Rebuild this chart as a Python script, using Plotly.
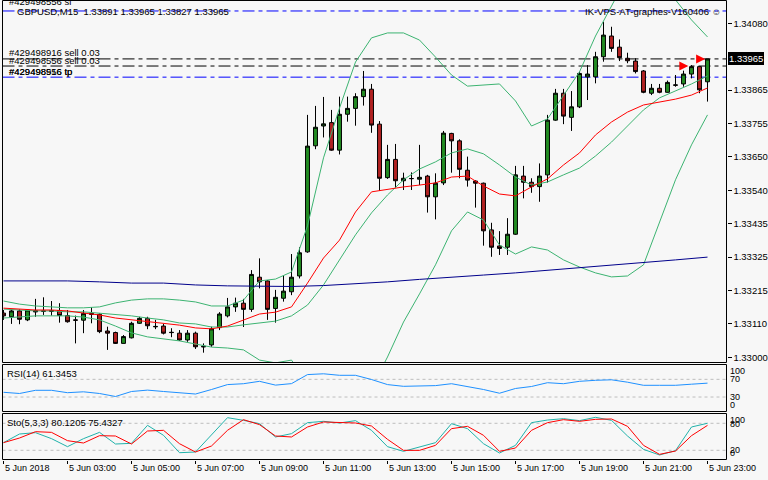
import plotly.graph_objects as go

# ---------------- data (GBPUSD M15, 5 Jun 2018 01:00 .. 23:00) ----------------
bars = list(range(89))
opens = [1.33143, 1.33131, 1.33150, 1.33121, 1.33151, 1.33150, 1.33151, 1.33151, 1.33135, 1.33121,
         1.33120, 1.33142, 1.33139, 1.33085, 1.33080, 1.33045, 1.33063, 1.33110, 1.33126, 1.33100,
         1.33101, 1.33081, 1.33078, 1.33056, 1.33078, 1.33036, 1.33040, 1.33096, 1.33134, 1.33163,
         1.33175, 1.33155, 1.33259, 1.33247, 1.33158, 1.33191, 1.33212, 1.33263, 1.33341, 1.33684,
         1.33748, 1.33759, 1.33670, 1.33786, 1.33805, 1.33843, 1.33867, 1.33754, 1.33581, 1.33640,
         1.33571, 1.33578, 1.33576, 1.33586, 1.33519, 1.33564, 1.33724, 1.33700, 1.33605, 1.33570,
         1.33563, 1.33412, 1.33360, 1.33356, 1.33398, 1.33586, 1.33566, 1.33552, 1.33590, 1.33767,
         1.33854, 1.33776, 1.33810, 1.33907, 1.33907, 1.33972, 1.34039, 1.34003, 1.33967, 1.33958,
         1.33926, 1.33854, 1.33870, 1.33857, 1.33881, 1.33884, 1.33916, 1.33940, 1.33891]
highs = [1.33153, 1.33153, 1.33155, 1.33156, 1.33189, 1.33194, 1.33182, 1.33175, 1.33153, 1.33135,
         1.33153, 1.33162, 1.33142, 1.33099, 1.33083, 1.33072, 1.33115, 1.33131, 1.33131, 1.33121,
         1.33108, 1.33094, 1.33088, 1.33088, 1.33083, 1.33045, 1.33099, 1.33146, 1.33192, 1.33193,
         1.33189, 1.33282, 1.33320, 1.33250, 1.33218, 1.33266, 1.33334, 1.33356, 1.33784, 1.33813,
         1.33842, 1.33800, 1.33843, 1.33843, 1.33854, 1.33926, 1.33884, 1.33764, 1.33687, 1.33690,
         1.33597, 1.33598, 1.33687, 1.33590, 1.33595, 1.33732, 1.33726, 1.33705, 1.33649, 1.33573,
         1.33565, 1.33435, 1.33408, 1.33450, 1.33619, 1.33619, 1.33579, 1.33627, 1.33784, 1.33868,
         1.33868, 1.33861, 1.33924, 1.33945, 1.33988, 1.34085, 1.34069, 1.34028, 1.33985, 1.33967,
         1.33929, 1.33884, 1.33884, 1.33895, 1.33913, 1.33927, 1.33945, 1.33941, 1.33965]
lows = [1.33121, 1.33108, 1.33107, 1.33117, 1.33131, 1.33137, 1.33135, 1.33112, 1.33112, 1.33045,
        1.33078, 1.33110, 1.33078, 1.33024, 1.33043, 1.33045, 1.33061, 1.33108, 1.33091, 1.33091,
        1.33074, 1.33065, 1.33053, 1.33050, 1.33027, 1.33015, 1.33034, 1.33088, 1.33129, 1.33147,
        1.33098, 1.33147, 1.33223, 1.33121, 1.33112, 1.33180, 1.33201, 1.33255, 1.33338, 1.33673,
        1.33711, 1.33668, 1.33656, 1.33762, 1.33749, 1.33814, 1.33726, 1.33538, 1.33577, 1.33547,
        1.33541, 1.33541, 1.33557, 1.33468, 1.33446, 1.33557, 1.33597, 1.33579, 1.33552, 1.33484,
        1.33361, 1.33325, 1.33331, 1.33331, 1.33396, 1.33514, 1.33532, 1.33503, 1.33565, 1.33765,
        1.33754, 1.33732, 1.33806, 1.33832, 1.33886, 1.33956, 1.33988, 1.33958, 1.33951, 1.33918,
        1.33854, 1.33848, 1.33854, 1.33856, 1.33875, 1.33875, 1.33902, 1.33854, 1.33827]
closes = [1.33134, 1.33150, 1.33123, 1.33153, 1.33147, 1.33149, 1.33149, 1.33135, 1.33115, 1.33120,
          1.33142, 1.33139, 1.33083, 1.33078, 1.33045, 1.33067, 1.33110, 1.33126, 1.33102, 1.33099,
          1.33078, 1.33080, 1.33056, 1.33078, 1.33034, 1.33034, 1.33092, 1.33140, 1.33163, 1.33175,
          1.33155, 1.33268, 1.33244, 1.33155, 1.33194, 1.33214, 1.33259, 1.33338, 1.33683, 1.33744,
          1.33755, 1.33670, 1.33786, 1.33805, 1.33843, 1.33867, 1.33751, 1.33579, 1.33640, 1.33571,
          1.33579, 1.33578, 1.33582, 1.33519, 1.33563, 1.33725, 1.33700, 1.33608, 1.33573, 1.33563,
          1.33409, 1.33356, 1.33352, 1.33398, 1.33590, 1.33566, 1.33552, 1.33586, 1.33767, 1.33854,
          1.33780, 1.33810, 1.33918, 1.33916, 1.33972, 1.34042, 1.33999, 1.33969, 1.33959, 1.33924,
          1.33857, 1.33870, 1.33857, 1.33889, 1.33880, 1.33916, 1.33940, 1.33865, 1.33965]

# indicator lines, read every second bar
line_bars = list(range(0, 89, 2))
ma_red = [1.33159, 1.33156, 1.33153, 1.33153, 1.33150, 1.33143, 1.33137, 1.33127, 1.33121, 1.33117,
          1.33111, 1.33104, 1.33095, 1.33092, 1.33101, 1.33121, 1.33140, 1.33146, 1.33163, 1.33240,
          1.33321, 1.33379, 1.33470, 1.33535, 1.33544, 1.33551, 1.33557, 1.33564, 1.33583, 1.33586,
          1.33554, 1.33528, 1.33522, 1.33551, 1.33577, 1.33622, 1.33661, 1.33719, 1.33761, 1.33793,
          1.33816, 1.33826, 1.33835, 1.33848, 1.33871]
bb_upper = [1.33182, 1.33172, 1.33166, 1.33163, 1.33160, 1.33160, 1.33163, 1.33176, 1.33185, 1.33189,
            1.33189, 1.33185, 1.33179, 1.33166, 1.33166, 1.33185, 1.33247, 1.33253, 1.33276, 1.33425,
            1.33645, 1.33806, 1.33955, 1.34033, 1.34049, 1.34049, 1.34026, 1.33971, 1.33913, 1.33877,
            1.33881, 1.33884, 1.33829, 1.33748, 1.33771, 1.33848, 1.33923, 1.34039, 1.34139, 1.34233,
            1.34301, 1.34246, 1.34156, 1.34091, 1.34036]
bb_middle = [1.33156, 1.33153, 1.33150, 1.33150, 1.33147, 1.33147, 1.33143, 1.33140, 1.33134, 1.33127,
             1.33121, 1.33111, 1.33108, 1.33098, 1.33098, 1.33105, 1.33111, 1.33117, 1.33134, 1.33169,
             1.33234, 1.33315, 1.33396, 1.33467, 1.33525, 1.33574, 1.33609, 1.33632, 1.33661, 1.33674,
             1.33658, 1.33622, 1.33583, 1.33557, 1.33567, 1.33590, 1.33612, 1.33651, 1.33696, 1.33748,
             1.33800, 1.33839, 1.33861, 1.33884, 1.33910]
bb_lower = [1.33127, 1.33130, 1.33134, 1.33134, 1.33134, 1.33130, 1.33121, 1.33101, 1.33079, 1.33066,
            1.33059, 1.33053, 1.33043, 1.33033, 1.33030, 1.33024, 1.32991, 1.32982, 1.32991, 1.32914,
            1.32823, 1.32823, 1.32836, 1.32901, 1.33001, 1.33114, 1.33205, 1.33299, 1.33409, 1.33470,
            1.33444, 1.33363, 1.33334, 1.33357, 1.33347, 1.33315, 1.33292, 1.33273, 1.33260, 1.33263,
            1.33299, 1.33438, 1.33574, 1.33687, 1.33784]
blue_bars = list(range(0, 89, 4))
ma_blue = [1.33247, 1.33247, 1.33247, 1.33244, 1.33240, 1.33240, 1.33234, 1.33231, 1.33229, 1.33229,
           1.33232, 1.33237, 1.33244, 1.33252, 1.33260, 1.33266, 1.33273, 1.33281, 1.33289, 1.33297,
           1.33305, 1.33315, 1.33324]
rsi = [40.7, 38.0, 45.2, 45.2, 39.8, 41.8, 38.0, 31.2, 42.5, 45.6,
       42.5, 39.1, 36.8, 47.0, 58.1, 60.1, 65.5, 56.9, 60.3, 80.7,
       82.5, 79.1, 79.1, 69.6, 58.1, 54.2, 54.2, 55.8, 60.1, 53.8,
       47.0, 38.6, 49.3, 53.8, 62.4, 60.1, 65.5, 67.8, 68.9, 63.5,
       56.5, 56.5, 56.5, 59.0, 61.35]
sto_main = [37.0, 56.2, 59.2, 45.9, 28.1, 45.9, 59.9, 34.0, 35.5, 75.5,
            53.3, 14.7, 16.2, 53.3, 92.5, 86.6, 79.2, 49.6, 57.0, 81.4,
            84.4, 80.7, 85.9, 64.4, 28.1, 17.7, 26.6, 37.0, 79.2, 68.1,
            34.7, 14.0, 31.0, 81.4, 87.3, 90.3, 85.9, 93.3, 86.6, 51.8,
            22.1, 9.6, 19.2, 71.8, 80.12]
sto_signal = [37.0, 47.3, 61.4, 59.9, 41.4, 36.2, 52.5, 51.8, 34.0, 62.9,
              64.4, 34.7, 16.2, 29.6, 64.4, 88.1, 77.0, 51.8, 49.6, 71.8,
              82.9, 82.1, 80.7, 74.0, 44.4, 19.9, 19.9, 31.0, 68.1, 73.3,
              53.3, 17.7, 25.1, 64.4, 81.4, 88.1, 84.4, 88.8, 89.6, 73.3,
              31.0, 11.0, 18.4, 52.5, 75.43]

# orders
order_sl = 1.34120
order_sell_1 = 1.33965
order_sell_2 = 1.33942
order_tp = 1.33906
arrow_bars = [85.6, 87.7]
arrow_prices = [1.33942, 1.33965]

price_tick_vals = [1.33000, 1.33108, 1.33216, 1.33324, 1.33432, 1.33540, 1.33648, 1.33756, 1.33864, 1.34080]
price_tick_text = ['1.33000', '1.33110', '1.33215', '1.33325', '1.33435', '1.33540', '1.33650',
                   '1.33755', '1.33865', '1.34080']
time_tick_bars = [0, 8, 16, 24, 32, 40, 48, 56, 64, 72, 80, 88]
time_tick_text = ['5 Jun 2018', '5 Jun 03:00', '5 Jun 05:00', '5 Jun 07:00', '5 Jun 09:00', '5 Jun 11:00',
                  '5 Jun 13:00', '5 Jun 15:00', '5 Jun 17:00', '5 Jun 19:00', '5 Jun 21:00', '5 Jun 23:00']

# ---------------- layout helpers ----------------
W, H = 768, 480
FONT = 'Liberation Sans, Arial, sans-serif'
BG = '#f7f7f7'
XL, XR = 2.5, 726.5
MAIN_T, MAIN_B = 0.5, 362.5
RSI_T, RSI_B = 364.5, 411.5
STO_T, STO_B = 413.5, 459.5


def px(x):
    return x / W


def py(y):
    return 1 - y / H


fig = go.Figure()

fig.add_trace(go.Candlestick(
    x=bars, open=opens, high=highs, low=lows, close=closes,
    increasing=dict(line=dict(color='black', width=1), fillcolor='#228B22'),
    decreasing=dict(line=dict(color='black', width=1), fillcolor='#B22222'),
    whiskerwidth=0, showlegend=False, hoverinfo='skip', xaxis='x', yaxis='y'))

band_col = '#3CB371'
for series in (bb_upper, bb_middle, bb_lower):
    fig.add_trace(go.Scatter(x=line_bars, y=series, mode='lines', line=dict(color=band_col, width=1),
                             showlegend=False, hoverinfo='skip', xaxis='x', yaxis='y'))
fig.add_trace(go.Scatter(x=line_bars, y=ma_red, mode='lines', line=dict(color='#FF0000', width=1),
                         showlegend=False, hoverinfo='skip', xaxis='x', yaxis='y'))
fig.add_trace(go.Scatter(x=blue_bars, y=ma_blue, mode='lines', line=dict(color='#00008B', width=1),
                         showlegend=False, hoverinfo='skip', xaxis='x', yaxis='y'))
fig.add_trace(go.Scatter(x=arrow_bars, y=arrow_prices, mode='markers',
                         marker=dict(symbol='arrow-right', size=9, color='#FF0000', line=dict(width=0)),
                         showlegend=False, hoverinfo='skip', xaxis='x', yaxis='y'))

fig.add_trace(go.Scatter(x=line_bars, y=rsi, mode='lines', line=dict(color='#1E90FF', width=1),
                         showlegend=False, hoverinfo='skip', xaxis='x2', yaxis='y2'))
fig.add_trace(go.Scatter(x=line_bars, y=sto_main, mode='lines', line=dict(color='#20B2AA', width=1),
                         showlegend=False, hoverinfo='skip', xaxis='x3', yaxis='y3'))
fig.add_trace(go.Scatter(x=line_bars, y=sto_signal, mode='lines', line=dict(color='#FF0000', width=1),
                         showlegend=False, hoverinfo='skip', xaxis='x3', yaxis='y3'))

xrange = [(XL - 3.5) / 8, (XR - 3.5) / 8]
xdom = [px(XL), px(XR)]


def price_at(y):
    return 1.33 + (357.3 - y) * 0.00003234


shapes = []
# order lines
for lvl, col in ((order_sl, '#0000FF'), (order_tp, '#0000FF'), (order_sell_1, '#000000'), (order_sell_2, '#000000')):
    shapes.append(dict(type='line', xref='paper', yref='y', x0=xdom[0], x1=xdom[1], y0=lvl, y1=lvl,
                       line=dict(color=col, width=1, dash='12px,4px,4px,4px'), layer='below'))
# level lines in sub panels
for lvl in (30, 70):
    shapes.append(dict(type='line', xref='paper', yref='y2', x0=xdom[0], x1=xdom[1], y0=lvl, y1=lvl,
                       line=dict(color='#BDBDBD', width=1, dash='3px,3px'), layer='below'))
for lvl in (20, 80):
    shapes.append(dict(type='line', xref='paper', yref='y3', x0=xdom[0], x1=xdom[1], y0=lvl, y1=lvl,
                       line=dict(color='#BDBDBD', width=1, dash='3px,3px'), layer='below'))
# panel frames
for t, b in ((MAIN_T, MAIN_B), (RSI_T, RSI_B), (STO_T, STO_B)):
    shapes.append(dict(type='rect', xref='paper', yref='paper', x0=px(XL), x1=px(XR), y0=py(b), y1=py(t),
                       line=dict(color='black', width=1), fillcolor='rgba(0,0,0,0)', layer='above'))

ann = []


def label(text, x, y, size=9.5, anchor='left', color='black', **kw):
    ann.append(dict(text=text, x=px(x), y=py(y), xref='paper', yref='paper', showarrow=False,
                    xanchor=anchor, yanchor='middle', borderpad=0, borderwidth=0,
                    font=dict(family=FONT, size=size, color=color), **kw))


label('#429498556 sl', 9, 1.5)
label('GBPUSD,M15  1.33891 1.33965 1.33827 1.33965', 17, 11)
label('IK-VPS-AT-graphes-V160406 \u263A', 721, 11, anchor='right')
label('#429498916 sell 0.03', 9, 52.5)
label('#429498556 sell 0.03', 9, 60.5)
label('#429498556 tp', 9, 71.5)
label('#429498916 tp', 9, 71.5)
label('RSI(14) 61.3453', 7, 373.5)
label('Sto(5,3,3) 80.1205 75.4327', 7, 422.5)
for txt, ypx in (('100', 371.3), ('70', 379.3), ('30', 397.0), ('0', 404.7),
                 ('100', 420.3), ('80', 424.3), ('20', 450.3), ('0', 452.7)):
    label(txt, 730, ypx, size=9)

ann.append(dict(text='1.33965', x=px(727.5), y=order_sell_1, xref='paper', yref='y', showarrow=False,
                xanchor='left', yanchor='middle', bgcolor='black', borderpad=1, borderwidth=0,
                font=dict(family=FONT, size=9.5, color='white')))

for b, txt in zip(time_tick_bars, time_tick_text):
    ann.append(dict(text=txt, x=b, y=py(468), xref='x3', yref='paper', showarrow=False,
                    xanchor='left', yanchor='middle', xshift=1, borderpad=0, borderwidth=0,
                    font=dict(family=FONT, size=9, color='black')))

main_range = [price_at(MAIN_B), price_at(MAIN_T)]
rsi_range = [(410.3 - RSI_B) / 0.4425, (410.3 - RSI_T) / 0.4425]
sto_range = [(459.3 - STO_B) / 0.45, (459.3 - STO_T) / 0.45]

hidden_x = dict(range=xrange, domain=xdom, showticklabels=False, ticks='', showgrid=False,
                zeroline=False, showline=False, fixedrange=True)

fig.update_layout(
    width=W, height=H, margin=dict(l=0, r=0, t=0, b=0),
    paper_bgcolor=BG, plot_bgcolor=BG, showlegend=False,
    font=dict(family=FONT, size=9, color='black'),
    xaxis=dict(hidden_x, anchor='y', rangeslider=dict(visible=False)),
    xaxis2=dict(hidden_x, anchor='y2', matches='x'),
    xaxis3=dict(range=xrange, domain=xdom, anchor='y3', matches='x', showticklabels=False,
                tickmode='array', tickvals=time_tick_bars, ticks='outside', ticklen=3,
                tickcolor='black', showgrid=False, zeroline=False, showline=False),
    yaxis=dict(domain=[py(MAIN_B), py(MAIN_T)], range=main_range, side='right', anchor='x',
               tickmode='array', tickvals=price_tick_vals, ticktext=price_tick_text,
               ticks='outside', ticklen=4, tickcolor='black', showgrid=False, zeroline=False,
               showline=False, tickfont=dict(family=FONT, size=9.5, color='black')),
    yaxis2=dict(domain=[py(RSI_B), py(RSI_T)], range=rsi_range, side='right', anchor='x2',
                showticklabels=False, ticks='', showgrid=False, zeroline=False, showline=False),
    yaxis3=dict(domain=[py(STO_B), py(STO_T)], range=sto_range, side='right', anchor='x3',
                showticklabels=False, ticks='', showgrid=False, zeroline=False, showline=False),
    shapes=shapes, annotations=ann,
)

fig.write_html('out.html', config={'displayModeBar': False},
               post_script="document.body.style.margin='0px';"
                           "document.documentElement.style.overflow='hidden';"
                           "document.body.style.background='" + BG + "';")
